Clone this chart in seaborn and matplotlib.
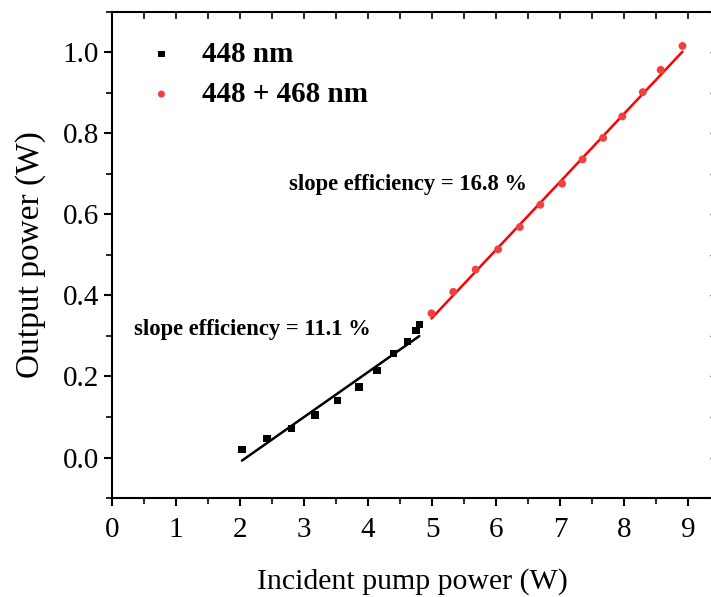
import numpy as np
import pandas as pd
import matplotlib
matplotlib.use('Agg')
import matplotlib.pyplot as plt
import seaborn as sns

pump_448 = [2.03, 2.42, 2.80, 3.17, 3.52, 3.86, 4.14, 4.40, 4.62, 4.75, 4.80]
out_448 = [0.020, 0.047, 0.071, 0.105, 0.141, 0.174, 0.215, 0.257, 0.287, 0.314, 0.328]

pump_dual = [4.99, 5.33, 5.68, 6.03, 6.37, 6.69, 7.03, 7.35, 7.67, 7.97, 8.29, 8.57, 8.91]
out_dual = [0.356, 0.409, 0.464, 0.514, 0.569, 0.624, 0.676, 0.736, 0.789, 0.842, 0.902, 0.957, 1.016]

# linear fits (slope, intercept)
fit_448 = (0.111, -0.233)
fit_dual = (0.168, -0.495)

sns.set_theme(style='ticks')
plt.rcParams['font.family'] = ['Liberation Serif', 'DejaVu Serif']
plt.rcParams['text.color'] = 'black'
plt.rcParams['axes.labelcolor'] = 'black'
plt.rcParams['xtick.color'] = 'black'
plt.rcParams['ytick.color'] = 'black'
plt.rcParams['axes.edgecolor'] = 'black'

fig = plt.figure(figsize=(7.11, 5.97), dpi=100)
ax = fig.add_axes([0.1575, 0.1658, 0.8465, 0.8142])

df1 = pd.DataFrame({'x': pump_448, 'y': out_448})
df2 = pd.DataFrame({'x': pump_dual, 'y': out_dual})

# fit lines
x1 = np.array([min(pump_448), max(pump_448)])
x2 = np.array([min(pump_dual), max(pump_dual)])
sns.lineplot(x=x1, y=fit_448[0] * x1 + fit_448[1], ax=ax, color='black', lw=1.8)
sns.lineplot(x=x2, y=fit_dual[0] * x2 + fit_dual[1], ax=ax, color='red', lw=1.8)

sns.scatterplot(data=df1, x='x', y='y', ax=ax, marker='s', s=28, color='black',
                edgecolor='none', label='448 nm', zorder=3)
sns.scatterplot(data=df2, x='x', y='y', ax=ax, marker='o', s=32, color='#f04040',
                edgecolor='none', label='448 + 468 nm', zorder=3)

ax.text(2.19, 0.317, 'slope efficiency = 11.1 %', fontsize=16.3, fontweight='bold',
        ha='center', va='center')
ax.text(4.62, 0.673, 'slope efficiency = 16.8 %', fontsize=16.3, fontweight='bold',
        ha='center', va='center')

ax.set_xlim(0, 9.4)
ax.set_ylim(-0.1, 1.1)
ax.set_xticks(np.arange(0, 10, 1))
ax.set_yticks(np.arange(0, 1.01, 0.2))
ax.set_yticklabels([f'{v:.1f}' for v in np.arange(0, 1.01, 0.2)])
ax.set_xticks(np.arange(0.5, 9.4, 1), minor=True)
ax.set_yticks(np.arange(-0.1, 1.1, 0.2), minor=True)
ax.tick_params(which='major', direction='out', length=6, width=1.5, labelsize=21)
ax.tick_params(axis='x', which='major', pad=8)
ax.tick_params(which='minor', direction='out', length=4, width=1.2)
ax.set_xlabel('Incident pump power (W)', fontsize=21.5, labelpad=18)
ax.set_ylabel('Output power (W)', fontsize=24, labelpad=12)
for s in ax.spines.values():
    s.set_linewidth(1.5)

top = ax.secondary_xaxis('top')
top.set_xticks(np.arange(0.5, 9.4, 0.5))
top.tick_params(direction='in', length=5, width=1.2, labeltop=False)
right = ax.secondary_yaxis('right')
right.set_yticks(np.arange(-0.1, 1.11, 0.1))
right.tick_params(direction='in', length=3, width=1.0, labelright=False)

leg = ax.legend(loc='upper left', bbox_to_anchor=(-0.01, 0.995), frameon=False,
                prop={'size': 21, 'weight': 'bold'}, handletextpad=0.4,
                labelspacing=0.45, markerscale=0.9)

fig.savefig('out.png', dpi=100)
